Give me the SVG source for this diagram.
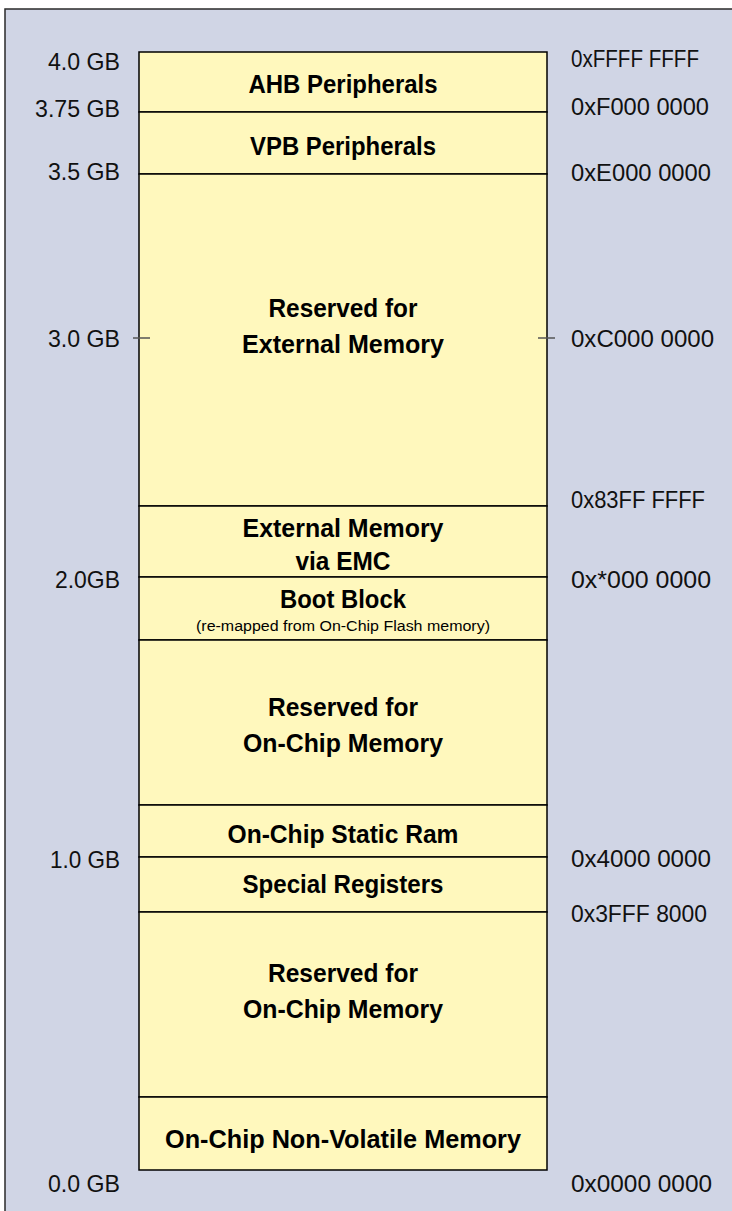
<svg xmlns="http://www.w3.org/2000/svg" width="732" height="1211" viewBox="0 0 732 1211">
<style>
.bg{fill:#D0D5E5;stroke:#2a2a2a;stroke-width:1.5}
.reg{fill:#FFF8BD;stroke:#000;stroke-width:1.5}
.lbl{font-family:"Liberation Sans",Arial,sans-serif;font-weight:bold;font-size:26px;fill:#000;text-anchor:middle}
.sub{font-family:"Liberation Sans",Arial,sans-serif;font-size:14px;fill:#000;text-anchor:middle}
.gb{font-family:"Liberation Sans",Arial,sans-serif;font-size:24px;fill:#111;text-anchor:end}
.hex{font-family:"Liberation Sans",Arial,sans-serif;font-size:24px;fill:#111;text-anchor:start}
.tick{stroke:#555;stroke-width:1.5}
</style>
<rect x="0" y="0" width="732" height="1211" fill="#fff"/>
<rect class="bg" x="5" y="9" width="740" height="1220"/>

<g id="ahb"><rect class="reg" x="139" y="52" width="408" height="60"/><text class="lbl" x="343" y="93" textLength="189" lengthAdjust="spacingAndGlyphs">AHB Peripherals</text></g>
<g id="vpb"><rect class="reg" x="139" y="112" width="408" height="62"/><text class="lbl" x="343" y="155" textLength="186" lengthAdjust="spacingAndGlyphs">VPB Peripherals</text></g>
<g id="res-ext"><rect class="reg" x="139" y="174" width="408" height="332"/><text class="lbl" x="343" y="317" textLength="149" lengthAdjust="spacingAndGlyphs">Reserved for</text><text class="lbl" x="343" y="353" textLength="202" lengthAdjust="spacingAndGlyphs">External Memory</text></g>
<g id="ext-emc"><rect class="reg" x="139" y="506" width="408" height="71"/><text class="lbl" x="343" y="537" textLength="201" lengthAdjust="spacingAndGlyphs">External Memory</text><text class="lbl" x="343" y="570" textLength="95" lengthAdjust="spacingAndGlyphs">via EMC</text></g>
<g id="boot"><rect class="reg" x="139" y="577" width="408" height="63"/><text class="lbl" x="343" y="608" textLength="126" lengthAdjust="spacingAndGlyphs">Boot Block</text><text class="sub" x="343" y="631" textLength="294" lengthAdjust="spacingAndGlyphs">(re-mapped from On-Chip Flash memory)</text></g>
<g id="res-onchip-hi"><rect class="reg" x="139" y="640" width="408" height="165"/><text class="lbl" x="343" y="716" textLength="150" lengthAdjust="spacingAndGlyphs">Reserved for</text><text class="lbl" x="343" y="752" textLength="200" lengthAdjust="spacingAndGlyphs">On-Chip Memory</text></g>
<g id="sram"><rect class="reg" x="139" y="805" width="408" height="52"/><text class="lbl" x="343" y="843" textLength="231" lengthAdjust="spacingAndGlyphs">On-Chip Static Ram</text></g>
<g id="special"><rect class="reg" x="139" y="857" width="408" height="55"/><text class="lbl" x="343" y="893" textLength="201" lengthAdjust="spacingAndGlyphs">Special Registers</text></g>
<g id="res-onchip-lo"><rect class="reg" x="139" y="912" width="408" height="185"/><text class="lbl" x="343" y="982" textLength="150" lengthAdjust="spacingAndGlyphs">Reserved for</text><text class="lbl" x="343" y="1018" textLength="200" lengthAdjust="spacingAndGlyphs">On-Chip Memory</text></g>
<g id="nvm"><rect class="reg" x="139" y="1097" width="408" height="73"/><text class="lbl" x="343" y="1148" textLength="356" lengthAdjust="spacingAndGlyphs">On-Chip Non-Volatile Memory</text></g>

<g id="connectors">
<line class="tick" x1="133" y1="338" x2="150" y2="338"/>
<line class="tick" x1="538" y1="338" x2="555" y2="338"/>
</g>

<g id="gb-labels">
<text class="gb" x="120" y="70" textLength="72" lengthAdjust="spacingAndGlyphs">4.0 GB</text>
<text class="gb" x="120" y="117" textLength="85" lengthAdjust="spacingAndGlyphs">3.75 GB</text>
<text class="gb" x="120" y="180" textLength="72" lengthAdjust="spacingAndGlyphs">3.5 GB</text>
<text class="gb" x="120" y="347" textLength="72" lengthAdjust="spacingAndGlyphs">3.0 GB</text>
<text class="gb" x="120" y="588" textLength="65" lengthAdjust="spacingAndGlyphs">2.0GB</text>
<text class="gb" x="120" y="868" textLength="70" lengthAdjust="spacingAndGlyphs">1.0 GB</text>
<text class="gb" x="120" y="1192" textLength="72" lengthAdjust="spacingAndGlyphs">0.0 GB</text>
</g>
<g id="hex-labels">
<text class="hex" x="571" y="67" textLength="128" lengthAdjust="spacingAndGlyphs">0xFFFF FFFF</text>
<text class="hex" x="571" y="115" textLength="138" lengthAdjust="spacingAndGlyphs">0xF000 0000</text>
<text class="hex" x="571" y="181" textLength="140" lengthAdjust="spacingAndGlyphs">0xE000 0000</text>
<text class="hex" x="571" y="347" textLength="143" lengthAdjust="spacingAndGlyphs">0xC000 0000</text>
<text class="hex" x="571" y="508" textLength="134" lengthAdjust="spacingAndGlyphs">0x83FF FFFF</text>
<text class="hex" x="571" y="588" textLength="140" lengthAdjust="spacingAndGlyphs">0x*000 0000</text>
<text class="hex" x="571" y="867" textLength="140" lengthAdjust="spacingAndGlyphs">0x4000 0000</text>
<text class="hex" x="571" y="922" textLength="136" lengthAdjust="spacingAndGlyphs">0x3FFF 8000</text>
<text class="hex" x="571" y="1192" textLength="141" lengthAdjust="spacingAndGlyphs">0x0000 0000</text>
</g>
</svg>
